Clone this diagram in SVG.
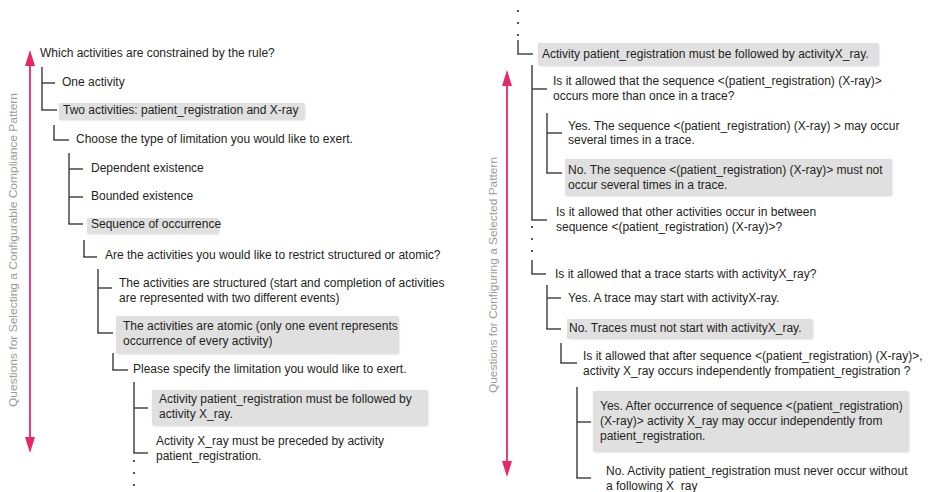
<svg xmlns="http://www.w3.org/2000/svg" width="930" height="492" viewBox="0 0 930 492">
<style>
text{font-family:"Liberation Sans",Arial,sans-serif;font-size:12px;fill:#231f20}
.lbl{font-size:11.5px;fill:#9a9a9a}
.box{fill:#e0e0e0;filter:url(#sh)}
.c line{stroke:#3a3a3a;stroke-width:1.4}
.arr{stroke:#e6286b;stroke-width:1.8}
.ah{fill:#e6286b}
.dot{fill:#231f20}
</style>
<defs>
<filter id="sh" x="-5%" y="-20%" width="110%" height="150%">
<feDropShadow dx="1" dy="1" stdDeviation="0.8" flood-color="#000" flood-opacity="0.18"/>
</filter>
</defs>
<rect width="930" height="492" fill="#fff"/>

<!-- left axis -->
<g id="axis-left">
<line class="arr" x1="30" y1="62" x2="30" y2="440"/>
<polygon class="ah" points="30,50 35,66 25,66"/>
<polygon class="ah" points="30,453 35,437 25,437"/>
<text class="lbl" transform="translate(17,407) rotate(-90)" textLength="314" lengthAdjust="spacingAndGlyphs">Questions for Selecting a Configurable Compliance Pattern</text>
</g>

<!-- right axis -->
<g id="axis-right">
<line class="arr" x1="507" y1="82" x2="507" y2="465"/>
<polygon class="ah" points="507,70 512,86 502,86"/>
<polygon class="ah" points="507,477 512,461 502,461"/>
<text class="lbl" transform="translate(497,393) rotate(-90)" textLength="236" lengthAdjust="spacingAndGlyphs">Questions for Configuring a Selected Pattern</text>
</g>

<g id="connectors" class="c">
<line x1="42" y1="67" x2="42" y2="110"/><line x1="42" y1="83" x2="55" y2="83"/><line x1="41.3" y1="110" x2="57" y2="110"/>
<line x1="54" y1="125" x2="54" y2="140"/><line x1="53.3" y1="140" x2="69" y2="140"/>
<line x1="69" y1="153" x2="69" y2="224"/><line x1="69" y1="169" x2="83" y2="169"/><line x1="69" y1="197" x2="83" y2="197"/><line x1="68.3" y1="224" x2="83" y2="224"/>
<line x1="84" y1="240" x2="84" y2="257"/><line x1="83.3" y1="257" x2="97" y2="257"/>
<line x1="98" y1="269" x2="98" y2="333"/><line x1="98" y1="288" x2="112" y2="288"/><line x1="97.3" y1="333" x2="113" y2="333"/>
<line x1="113" y1="353" x2="113" y2="370"/><line x1="112.3" y1="370" x2="128" y2="370"/>
<line x1="134" y1="382" x2="134" y2="453"/><line x1="134" y1="408" x2="148" y2="408"/><line x1="133.3" y1="453" x2="148" y2="453"/>

<line x1="518" y1="40" x2="518" y2="54"/><line x1="517.3" y1="54" x2="533" y2="54"/>
<line x1="532" y1="65" x2="532" y2="220"/><line x1="532" y1="89" x2="547" y2="89"/><line x1="531.3" y1="220" x2="547" y2="220"/>
<line x1="547" y1="113" x2="547" y2="173"/><line x1="547" y1="133" x2="562" y2="133"/><line x1="546.3" y1="173" x2="562" y2="173"/>
<line x1="532" y1="260" x2="532" y2="274"/><line x1="531.3" y1="274" x2="546" y2="274"/>
<line x1="547" y1="285" x2="547" y2="329"/><line x1="547" y1="298" x2="561" y2="298"/><line x1="546.3" y1="329" x2="561" y2="329"/>
<line x1="561" y1="343" x2="561" y2="363"/><line x1="560.3" y1="363" x2="577" y2="363"/>
<line x1="577" y1="387" x2="577" y2="478"/><line x1="577" y1="422" x2="591" y2="422"/><line x1="576.3" y1="478" x2="591" y2="478"/>
</g>

<g id="dots">
<circle class="dot" cx="134" cy="461" r="1"/><circle class="dot" cx="134" cy="473" r="1"/><circle class="dot" cx="134" cy="485" r="1"/>
<circle class="dot" cx="518" cy="11" r="1"/><circle class="dot" cx="518" cy="23" r="1"/><circle class="dot" cx="518" cy="35" r="1"/>
<circle class="dot" cx="532" cy="227" r="1"/><circle class="dot" cx="532" cy="239" r="1"/><circle class="dot" cx="532" cy="251" r="1"/>
</g>

<!-- left nodes -->
<g id="n1"><text x="40" y="57">Which activities are constrained by the rule?</text></g>
<g id="n2"><text x="62" y="86">One activity</text></g>
<g id="n3"><rect class="box" x="59" y="103" width="245" height="16"/><text x="63" y="114">Two activities: patient_registration and X-ray</text></g>
<g id="n4"><text x="76" y="143">Choose the type of limitation you would like to exert.</text></g>
<g id="n5"><text x="91" y="172">Dependent existence</text></g>
<g id="n6"><text x="91" y="200">Bounded existence</text></g>
<g id="n7"><rect class="box" x="87" y="218" width="131" height="15"/><text x="91" y="228">Sequence of occurrence</text></g>
<g id="n8"><text x="105" y="259">Are the activities you would like to restrict structured or atomic?</text></g>
<g id="n9"><text x="119" y="287">The activities are structured (start and completion of activities</text><text x="119" y="302">are represented with two different events)</text></g>
<g id="n10"><rect class="box" x="116" y="316" width="282" height="37"/><text x="123" y="330">The activities are atomic (only one event represents</text><text x="123" y="345">occurrence of every activity)</text></g>
<g id="n11"><text x="133" y="373">Please specify the limitation you would like to exert.</text></g>
<g id="n12"><rect class="box" x="152" y="390" width="275" height="35"/><text x="159" y="403">Activity patient_registration must be followed by</text><text x="159" y="418">activity X_ray.</text></g>
<g id="n13"><text x="156" y="445">Activity X_ray must be preceded by activity</text><text x="156" y="460">patient_registration.</text></g>

<!-- right nodes -->
<g id="r1"><rect class="box" x="538" y="43" width="340" height="22"/><text x="542" y="58">Activity patient_registration must be followed by activityX_ray.</text></g>
<g id="r2"><text x="553" y="85">Is it allowed that the sequence &lt;(patient_registration) (X-ray)&gt;</text><text x="553" y="100">occurs more than once in a trace?</text></g>
<g id="r3"><text x="568" y="130">Yes. The sequence &lt;(patient_registration) (X-ray) &gt; may occur</text><text x="568" y="144">several times in a trace.</text></g>
<g id="r4"><rect class="box" x="565" y="159" width="326" height="36"/><text x="568" y="174">No. The sequence &lt;(patient_registration) (X-ray)&gt; must not</text><text x="568" y="189">occur several times in a trace.</text></g>
<g id="r5"><text x="556" y="216">Is it allowed that other activities occur in between</text><text x="556" y="231">sequence &lt;(patient_registration) (X-ray)&gt;?</text></g>
<g id="r6"><text x="555" y="278">Is it allowed that a trace starts with activityX_ray?</text></g>
<g id="r7"><text x="568" y="302">Yes. A trace may start with activityX-ray.</text></g>
<g id="r8"><rect class="box" x="567" y="319" width="245" height="19"/><text x="569" y="332">No. Traces must not start with activityX_ray.</text></g>
<g id="r9"><text x="583" y="360">Is it allowed that after sequence &lt;(patient_registration) (X-ray)&gt;,</text><text x="583" y="375">activity X_ray occurs independently frompatient_registration ?</text></g>
<g id="r10"><rect class="box" x="593" y="391" width="315" height="60"/><text x="600" y="410">Yes. After occurrence of sequence &lt;(patient_registration)</text><text x="600" y="425">(X-ray)&gt; activity X_ray may occur independently from</text><text x="600" y="440">patient_registration.</text></g>
<g id="r11"><text x="606" y="475">No. Activity patient_registration must never occur without</text><text x="606" y="490">a following X_ray</text></g>
</svg>
